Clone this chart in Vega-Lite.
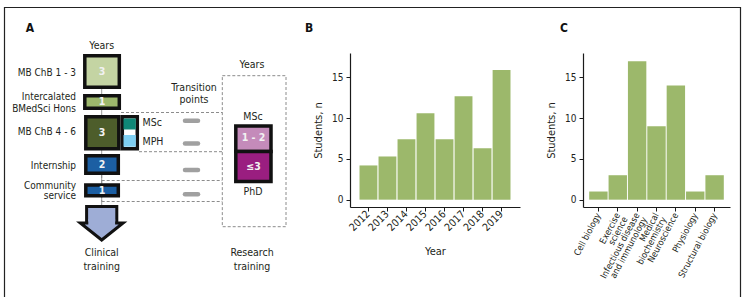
{
  "$schema": "https://vega.github.io/schema/vega-lite/v6.json",
  "width": 746,
  "height": 297,
  "autosize": {"type": "none"},
  "padding": 0,
  "background": "white",
  "config": {
    "view": {"stroke": null},
    "font": "Liberation Sans Narrow, DejaVu Sans Condensed, Liberation Sans, sans-serif",
    "axis": {
      "domainColor": "#1a1a1a",
      "tickColor": "#1a1a1a",
      "labelColor": "#231f20",
      "titleColor": "#231f20",
      "labelFontSize": 10,
      "titleFontSize": 11,
      "titleFontWeight": "normal",
      "tickSize": 4,
      "domainWidth": 1.2,
      "grid": false
    }
  },
  "layer": [
    {
      "encoding": {
        "x": {"field": "x", "type": "quantitative", "scale": {"domain": [0, 746], "nice": false, "zero": false}, "axis": null},
        "y": {"field": "y", "type": "quantitative", "scale": {"domain": [0, 297], "reverse": true, "nice": false, "zero": false}, "axis": null}
      },
      "layer": [
        {
          "data": {"values": [{"x": 4.5, "x2": 740.5, "y": 7.5, "y2": 300}]},
          "mark": {"type": "rect", "filled": false, "stroke": "#222222", "strokeWidth": 1.2},
          "encoding": {"x2": {"field": "x2"}, "y2": {"field": "y2"}}
        },
        {
          "data": {"values": [
            {"x": 101.7, "x2": 101.7, "y": 89, "y2": 205}
          ]},
          "mark": {"type": "rule", "stroke": "#9a9a9a", "strokeWidth": 1},
          "encoding": {"x2": {"field": "x2"}, "y2": {"field": "y2"}}
        },
        {
          "data": {"values": [
            {"x": 121, "x2": 222.3, "y": 112.5, "y2": 112.5},
            {"x": 139, "x2": 222.3, "y": 151.7, "y2": 151.7},
            {"x": 101.7, "x2": 222.3, "y": 180.5, "y2": 180.5},
            {"x": 101.7, "x2": 222.3, "y": 201.5, "y2": 201.5},
            {"x": 101.7, "x2": 101.7, "y": 175, "y2": 201.5}
          ]},
          "mark": {"type": "rule", "stroke": "#8c8c8c", "strokeWidth": 1, "strokeDash": [3, 2]},
          "encoding": {"x2": {"field": "x2"}, "y2": {"field": "y2"}}
        },
        {
          "data": {"values": [{"x": 222.3, "x2": 286, "y": 75.7, "y2": 226.7}]},
          "mark": {"type": "rect", "filled": false, "stroke": "#8c8c8c", "strokeWidth": 1, "strokeDash": [3, 2]},
          "encoding": {"x2": {"field": "x2"}, "y2": {"field": "y2"}}
        },
        {
          "data": {"values": [
            {"x": 185, "x2": 198, "y": 120.7, "y2": 120.7},
            {"x": 185, "x2": 198, "y": 143.5, "y2": 143.5},
            {"x": 185, "x2": 198, "y": 170, "y2": 170},
            {"x": 185, "x2": 198, "y": 194.3, "y2": 194.3}
          ]},
          "mark": {"type": "rule", "stroke": "#a0a0a0", "strokeWidth": 4.5, "strokeCap": "round"},
          "encoding": {"x2": {"field": "x2"}, "y2": {"field": "y2"}}
        },
        {
          "data": {"values": [
            {"stage": "MB ChB 1-3", "x": 84.8, "x2": 119.3, "y": 55.8, "y2": 87.3},
            {"stage": "Intercalated BMedSci Hons", "x": 84.8, "x2": 119.3, "y": 95.8, "y2": 108.3},
            {"stage": "MB ChB 4-6", "x": 85.8, "x2": 118.8, "y": 116.8, "y2": 148.8},
            {"stage": "MSc/MPH", "x": 122.3, "x2": 137.3, "y": 116.8, "y2": 148.8},
            {"stage": "Internship", "x": 85.8, "x2": 118.3, "y": 155.8, "y2": 173.3},
            {"stage": "Community service", "x": 85.8, "x2": 118.3, "y": 185, "y2": 195.8},
            {"stage": "Research MSc", "x": 235.8, "x2": 271, "y": 126, "y2": 151.5},
            {"stage": "PhD", "x": 235.8, "x2": 271, "y": 151.5, "y2": 181.6}
          ]},
          "mark": {"type": "rect", "stroke": "#111111", "strokeWidth": 3.5, "strokeJoin": "miter"},
          "encoding": {
            "x2": {"field": "x2"},
            "y2": {"field": "y2"},
            "color": {
              "field": "stage",
              "type": "nominal",
              "legend": null,
              "scale": {
                "domain": ["MB ChB 1-3", "Intercalated BMedSci Hons", "MB ChB 4-6", "MSc/MPH", "Internship", "Community service", "Research MSc", "PhD", "Clinical MSc", "MPH", "Arrow"],
                "range": ["#c4d4a3", "#9db86c", "#4d5d2b", "#ffffff", "#1c5fa3", "#1c5fa3", "#c48bba", "#9a1e80", "#0f8777", "#7ecff2", "#9eadd6"]
              }
            }
          }
        },
        {
          "data": {"values": [
            {"stage": "Clinical MSc", "x": 123.5, "x2": 135.8, "y": 118.5, "y2": 129.5},
            {"stage": "MPH", "x": 123.5, "x2": 135.8, "y": 135, "y2": 146.7}
          ]},
          "mark": {"type": "rect"},
          "encoding": {
            "x2": {"field": "x2"},
            "y2": {"field": "y2"},
            "color": {"field": "stage", "type": "nominal", "legend": null}
          }
        },
        {
          "data": {"values": [
            {"stage": "Arrow", "x": 86.6, "x2": 116.8, "y": 206.5, "y2": 224}
          ]},
          "mark": {"type": "rect", "stroke": "#111111", "strokeWidth": 3, "strokeJoin": "miter"},
          "encoding": {
            "x2": {"field": "x2"},
            "y2": {"field": "y2"},
            "color": {"field": "stage", "type": "nominal", "legend": null}
          }
        },
        {
          "data": {"values": [
            {"x": 80.3, "y": 223, "y2": 223},
            {"x": 101.7, "y": 223, "y2": 240},
            {"x": 123.1, "y": 223, "y2": 223}
          ]},
          "mark": {"type": "area", "orient": "vertical", "fill": "#9eadd6", "stroke": "#111111", "strokeWidth": 3, "strokeJoin": "miter", "opacity": 1, "fillOpacity": 1},
          "encoding": {"y2": {"field": "y2"}}
        },
        {
          "data": {"values": [
            {"stage": "Arrow", "x": 88.3, "x2": 115.1, "y": 219, "y2": 225.8}
          ]},
          "mark": {"type": "rect", "strokeWidth": 0},
          "encoding": {
            "x2": {"field": "x2"},
            "y2": {"field": "y2"},
            "color": {"field": "stage", "type": "nominal", "legend": null}
          }
        },
        {
          "data": {"values": [
            {"t": "MB ChB 1 - 3", "x": 76, "y": 72.5},
            {"t": "Intercalated", "x": 76, "y": 97},
            {"t": "BMedSci Hons", "x": 76, "y": 108.5},
            {"t": "MB ChB 4 - 6", "x": 76, "y": 131.5},
            {"t": "Internship", "x": 76, "y": 166},
            {"t": "Community", "x": 76, "y": 185.5},
            {"t": "service", "x": 76, "y": 196}
          ]},
          "mark": {"type": "text", "align": "right", "baseline": "middle", "fontSize": 10, "color": "#231f20"},
          "encoding": {"text": {"field": "t"}}
        },
        {
          "data": {"values": [
            {"t": "MSc", "x": 142.5, "y": 123},
            {"t": "MPH", "x": 142.5, "y": 141.5}
          ]},
          "mark": {"type": "text", "align": "left", "baseline": "middle", "fontSize": 10.5, "color": "#231f20"},
          "encoding": {"text": {"field": "t"}}
        },
        {
          "data": {"values": [
            {"t": "Years", "x": 101.7, "y": 46},
            {"t": "Transition", "x": 194, "y": 87.7},
            {"t": "points", "x": 194, "y": 100},
            {"t": "Years", "x": 252, "y": 64.5},
            {"t": "MSc", "x": 253, "y": 116.7},
            {"t": "PhD", "x": 253, "y": 191.5},
            {"t": "Clinical", "x": 101.7, "y": 253},
            {"t": "training", "x": 101.7, "y": 267},
            {"t": "Research", "x": 252, "y": 253},
            {"t": "training", "x": 252, "y": 267}
          ]},
          "mark": {"type": "text", "align": "center", "baseline": "middle", "fontSize": 10.5, "color": "#231f20"},
          "encoding": {"text": {"field": "t"}}
        },
        {
          "data": {"values": [
            {"t": "3", "x": 102, "y": 72},
            {"t": "1", "x": 102, "y": 102},
            {"t": "3", "x": 102, "y": 133},
            {"t": "2", "x": 102, "y": 165},
            {"t": "1", "x": 102, "y": 190.5},
            {"t": "1 - 2", "x": 253.5, "y": 138},
            {"t": "≤3", "x": 253.5, "y": 166.5}
          ]},
          "mark": {"type": "text", "align": "center", "baseline": "middle", "fontSize": 10.5, "fontWeight": "bold", "color": "#f2f2f2"},
          "encoding": {"text": {"field": "t"}}
        },
        {
          "data": {"values": [
            {"t": "A", "x": 30, "y": 28},
            {"t": "B", "x": 309, "y": 28},
            {"t": "C", "x": 564, "y": 28}
          ]},
          "mark": {"type": "text", "align": "center", "baseline": "middle", "fontSize": 12, "fontWeight": "bold", "color": "#111111"},
          "encoding": {"text": {"field": "t"}}
        }
      ]
    },
    {
      "data": {"values": [
        {"year": "2012", "students": 4.2},
        {"year": "2013", "students": 5.3},
        {"year": "2014", "students": 7.4},
        {"year": "2015", "students": 10.6},
        {"year": "2016", "students": 7.4},
        {"year": "2017", "students": 12.7},
        {"year": "2018", "students": 6.3},
        {"year": "2019", "students": 15.9}
      ]},
      "mark": {"type": "bar", "color": "#9cb86b"},
      "encoding": {
        "x": {
          "field": "year", "type": "nominal",
          "scale": {"type": "band", "range": [350, 520], "paddingInner": 0.06, "paddingOuter": 0.5},
          "axis": {"orient": "bottom", "offset": -90, "title": "Year", "labelAngle": -45, "labelAlign": "right", "labelBaseline": "middle", "labelPadding": 1, "titlePadding": 13, "labelFontSize": 10.5}
        },
        "y": {
          "field": "students", "type": "quantitative",
          "scale": {"domain": [-0.9, 18], "range": [207, 53], "nice": false, "zero": false},
          "axis": {"orient": "left", "offset": -350, "values": [0, 5, 10, 15], "title": "Students, n", "labelPadding": 3, "titlePadding": 8}
        },
        "y2": {"datum": 0}
      }
    },
    {
      "data": {"values": [
        {"area": "Cell biology", "students": 1},
        {"area": "Exercise science", "students": 3},
        {"area": "Infectious disease and immunology", "students": 17},
        {"area": "Medical biochemistry", "students": 9},
        {"area": "Neuroscience", "students": 14},
        {"area": "Physiology", "students": 1},
        {"area": "Structural biology", "students": 3}
      ]},
      "mark": {"type": "bar", "color": "#9cb86b"},
      "encoding": {
        "x": {
          "field": "area", "type": "nominal", "sort": null,
          "scale": {"type": "band", "range": [583, 730], "paddingInner": 0.05, "paddingOuter": 0.32},
          "axis": {
            "orient": "bottom", "offset": -90, "title": null, "labelAngle": -62, "labelAlign": "right", "labelBaseline": "middle", "labelPadding": 2, "labelFontSize": 9, "labelLineHeight": 8.5,
            "labelExpr": "datum.label == 'Exercise science' ? ['Exercise', 'science'] : datum.label == 'Infectious disease and immunology' ? ['Infectious disease', 'and immunology'] : datum.label == 'Medical biochemistry' ? ['Medical', 'biochemistry'] : datum.label"
          }
        },
        "y": {
          "field": "students", "type": "quantitative",
          "scale": {"domain": [-0.9, 18], "range": [207, 53], "nice": false, "zero": false},
          "axis": {"orient": "left", "offset": -583, "values": [0, 5, 10, 15], "title": "Students, n", "labelPadding": 3, "titlePadding": 8}
        },
        "y2": {"datum": 0}
      }
    }
  ],
  "resolve": {
    "scale": {"x": "independent", "y": "independent", "color": "independent"},
    "axis": {"x": "independent", "y": "independent"}
  }
}
